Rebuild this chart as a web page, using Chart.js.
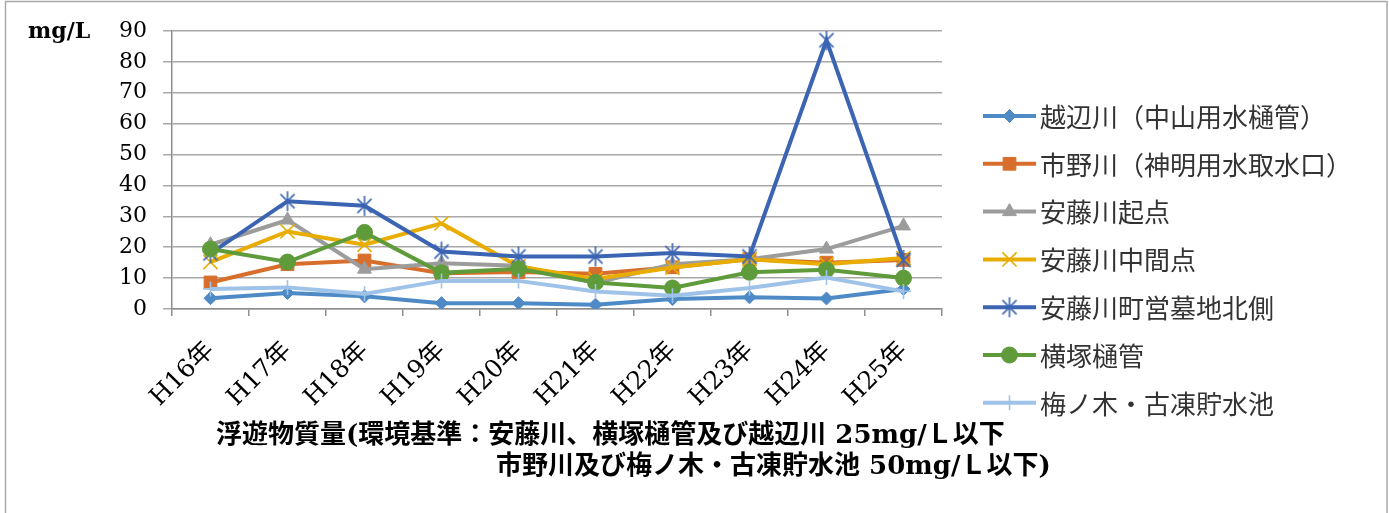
<!DOCTYPE html>
<html>
<head>
<meta charset="utf-8">
<script src="https://cdn.jsdelivr.net/npm/chart.js@4/dist/chart.umd.min.js"></script>
<style>
  html, body { margin: 0; padding: 0; background: #fff; }
  #wrap { width: 1389px; height: 513px; position: relative; }
</style>
</head>
<body>
<div id="wrap"><canvas id="c" width="1389" height="513"></canvas></div>
<script>
// Survey years
const years = ['H16年', 'H17年', 'H18年', 'H19年', 'H20年', 'H21年', 'H22年', 'H23年', 'H24年', 'H25年'];

// Suspended solids (mg/L) by sampling point
const koebeGawa   = [3.5, 5.2, 4.1, 1.9, 1.9, 1.4, 3.2, 3.8, 3.4, 6.5];
const ichinoGawa  = [8.6, 14.5, 15.7, 11.6, 12.0, 11.4, 13.5, 16.1, 15.0, 15.9];
const andoKiten   = [20.8, 28.8, 12.9, 14.8, 14.0, 8.4, 14.5, 16.1, 19.4, 26.9];
const andoChukan  = [15.2, 25.1, 20.8, 27.7, 13.8, 9.7, 13.4, 16.1, 14.5, 16.5];
const andoBochi   = [18.0, 34.9, 33.4, 18.6, 17.0, 17.0, 18.1, 17.0, 87.0, 15.9];
const yokozuka    = [19.4, 15.2, 24.8, 11.7, 13.0, 8.6, 6.8, 11.9, 12.7, 10.0];
const umenoki     = [6.5, 7.0, 4.9, 9.1, 9.1, 5.7, 4.3, 6.8, 10.2, 5.7];

const seriesNames = [
  '越辺川（中山用水樋管）',
  '市野川（神明用水取水口）',
  '安藤川起点',
  '安藤川中間点',
  '安藤川町営墓地北側',
  '横塚樋管',
  '梅ノ木・古凍貯水池'
];

// Y axis ticks
const yMin = 0, yMax = 90, yStep = 10;

const titleLine1 = '浮遊物質量(環境基準：安藤川、横塚樋管及び越辺川 25mg/Ｌ以下';
const titleLine2 = '市野川及び梅ノ木・古凍貯水池 50mg/Ｌ以下)';
const unitLabel = 'mg/L';

const seriesValues = [koebeGawa, ichinoGawa, andoKiten, andoChukan, andoBochi, yokozuka, umenoki];
const seriesColors = ['#4e8ac6', '#d86e2c', '#9c9c9c', '#e8ad00', '#3b65b3', '#5f9b3b', '#9fc2e8'];

// Six-armed asterisk marker (an X crossed by a vertical stroke)
function asteriskMarker(color, r, w) {
  const size = Math.ceil(2 * r + 4);
  const cv = document.createElement('canvas');
  cv.width = size; cv.height = size;
  const g = cv.getContext('2d');
  const c = size / 2, d = r * Math.SQRT1_2;
  g.strokeStyle = color;
  g.lineWidth = w;
  g.beginPath();
  g.moveTo(c - d, c - d); g.lineTo(c + d, c + d);
  g.moveTo(c + d, c - d); g.lineTo(c - d, c + d);
  g.moveTo(c, c - r); g.lineTo(c, c + r);
  g.stroke();
  return cv;
}

const seriesMarkers = [
  { pointStyle: 'rectRot',  radius: 6.5, borderWidth: 1 },
  { pointStyle: 'rect',     radius: 9,   borderWidth: 1 },
  { pointStyle: 'triangle', radius: 8,   borderWidth: 1 },
  { pointStyle: 'crossRot', radius: 10,  borderWidth: 1.6 },
  { pointStyle: asteriskMarker(seriesColors[4], 10, 1.6), radius: 9, borderWidth: 1.6 },
  { pointStyle: 'circle',   radius: 8,   borderWidth: 1 },
  { pointStyle: 'cross',    radius: 7.5, borderWidth: 1.6 }
];

const datasets = seriesNames.map((name, i) => ({
  label: name,
  data: seriesValues[i],
  borderColor: seriesColors[i],
  backgroundColor: seriesColors[i],
  pointBackgroundColor: seriesColors[i],
  pointBorderColor: seriesColors[i],
  pointStyle: seriesMarkers[i].pointStyle,
  pointRadius: seriesMarkers[i].radius,
  pointBorderWidth: seriesMarkers[i].borderWidth,
  borderWidth: 4,
  tension: 0,
  fill: false,
  order: seriesNames.length - i   // later series paint over earlier ones
}));

const SERIF = '"DejaVu Serif", "Noto Sans CJK JP", serif';
const CJK = '"Noto Sans CJK JP", sans-serif';

// Frame, unit label, legend and caption
const decorations = {
  id: 'decorations',
  afterDraw(chart) {
    const ctx = chart.ctx;
    const area = chart.chartArea;
    ctx.save();

    // outer frame
    ctx.strokeStyle = '#a9a9a9';
    ctx.lineWidth = 1.5;
    ctx.strokeRect(5.5, 1.5, 1381.5, 530);

    // unit label
    ctx.fillStyle = '#000';
    ctx.font = 'bold 22px ' + SERIF;
    ctx.textAlign = 'left';
    ctx.textBaseline = 'middle';
    ctx.fillText(unitLabel, 28, area.top + 1);

    // legend
    const lx0 = area.right + 41, lx1 = area.right + 94;
    const rowTop = area.top + 85, rowGap = 47.8;
    ctx.font = '26px ' + CJK;
    chart.data.datasets.forEach((ds, i) => {
      const y = rowTop + i * rowGap;
      ctx.strokeStyle = ds.borderColor;
      ctx.lineWidth = 4;
      ctx.beginPath();
      ctx.moveTo(lx0, y);
      ctx.lineTo(lx1, y);
      ctx.stroke();
      ctx.fillStyle = ds.pointBackgroundColor;
      ctx.strokeStyle = ds.pointBorderColor;
      ctx.lineWidth = ds.pointBorderWidth;
      Chart.helpers.drawPoint(ctx, {
        pointStyle: ds.pointStyle,
        radius: ds.pointRadius,
        borderWidth: ds.pointBorderWidth,
        rotation: 0
      }, (lx0 + lx1) / 2, y);
      ctx.fillStyle = '#333';
      ctx.textAlign = 'left';
      ctx.textBaseline = 'middle';
      ctx.fillText(ds.label, lx1 + 4, y + 1);
    });

    // caption
    ctx.fillStyle = '#000';
    ctx.font = 'bold 26px ' + SERIF;
    ctx.textAlign = 'left';
    ctx.textBaseline = 'middle';
    ctx.fillText(titleLine1, 216, area.bottom + 127);
    ctx.fillText(titleLine2, 496, area.bottom + 158);

    ctx.restore();
  }
};

new Chart(document.getElementById('c'), {
  type: 'line',
  data: { labels: years, datasets },
  options: {
    responsive: false,
    animation: false,
    devicePixelRatio: 1,
    layout: { padding: { left: 0, right: 447, top: 31, bottom: 0 } },
    plugins: {
      legend: { display: false },
      tooltip: { enabled: false },
      title: { display: false }
    },
    scales: {
      x: {
        offset: true,
        grid: {
          offset: true,
          drawOnChartArea: false,
          drawTicks: true,
          tickLength: 7,
          color: '#8e8e8e',
          lineWidth: 1.5
        },
        border: { display: true, color: '#8e8e8e', width: 1.5 },
        ticks: {
          autoSkip: false,
          minRotation: 45,
          maxRotation: 45,
          padding: 20,
          color: '#000',
          font: { family: SERIF, size: 25 }
        },
        afterFit(scale) { scale.height = 204; }
      },
      y: {
        min: yMin,
        max: yMax,
        ticks: {
          stepSize: yStep,
          padding: 16,
          color: '#000',
          font: { family: SERIF, size: 22 }
        },
        grid: {
          color: '#a8a8a8',
          lineWidth: 1.5,
          drawTicks: true,
          tickLength: 9
        },
        border: { display: true, color: '#8e8e8e', width: 1.5 },
        afterFit(scale) { scale.width = 172; }
      }
    }
  },
  plugins: [decorations]
});
</script>
</body>
</html>
